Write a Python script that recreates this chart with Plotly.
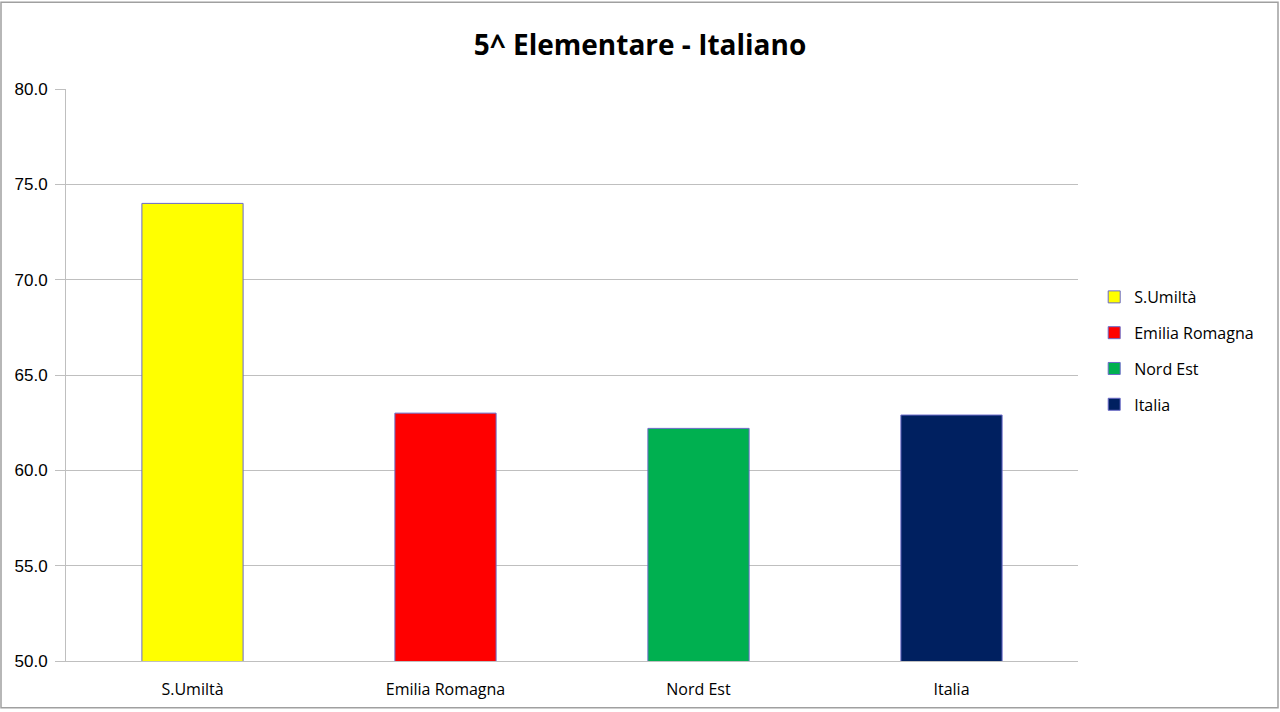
import plotly.graph_objects as go

categories = ["S.Umiltà", "Emilia Romagna", "Nord Est", "Italia"]
values = [74.0, 63.0, 62.2, 62.9]
colors = ["#FFFF00", "#FF0000", "#00B050", "#002060"]
y_ticks = [50, 55, 60, 65, 70, 75, 80]

fig = go.Figure()
for cat, val, col in zip(categories, values, colors):
    fig.add_trace(go.Bar(
        x=[cat], y=[val], name=cat, legendgroup=cat,
        marker=dict(color=col, line=dict(color="#6a6ac8", width=1)),
        width=0.4,
    ))

fig.update_layout(
    width=1280, height=712,
    margin=dict(l=66, r=202, t=89, b=49),
    paper_bgcolor="white", plot_bgcolor="white",
    barmode="overlay",
    font=dict(family="Liberation Sans, Arial, sans-serif", size=14, color="#000000"),
    title=dict(text="<b>5^ Elementare - Italiano</b>", x=0.5, xanchor="center",
               y=1 - 45 / 712, yanchor="middle", yref="container",
               font=dict(size=28, family="Open Sans, Liberation Sans, sans-serif")),
    showlegend=True,
    legend=dict(x=1.016, y=0.542, xanchor="left", yanchor="middle",
                font=dict(size=16, family="Open Sans, Liberation Sans, sans-serif"),
                tracegroupgap=12, itemwidth=30),
    xaxis=dict(categoryorder="array", categoryarray=categories,
               showline=True, linecolor="#bfbfbf", linewidth=1,
               ticks="", showgrid=False, ticklabelstandoff=14,
               tickfont=dict(size=16, family="Open Sans, Liberation Sans, sans-serif")),
    yaxis=dict(range=[50, 80], tickvals=y_ticks,
               ticktext=[f"{v:.1f}" for v in y_ticks],
               showline=True, linecolor="#bfbfbf", linewidth=1,
               ticks="outside", ticklen=10, tickcolor="#bfbfbf",
               showgrid=True, gridcolor="#bfbfbf", gridwidth=1,
               zeroline=False, ticklabelstandoff=4,
               tickfont=dict(size=17, family="Liberation Sans, Arial, sans-serif")),
)

fig.add_shape(type="rect", xref="paper", yref="paper",
              x0=(1 - 66) / 1012, x1=(1278 - 66) / 1012,
              y0=(663 - 710) / 574, y1=(663 - 2) / 574,
              line=dict(color="#a0a0a0", width=1.5), fillcolor="rgba(0,0,0,0)",
              layer="below")

fig.write_html("out.html")
